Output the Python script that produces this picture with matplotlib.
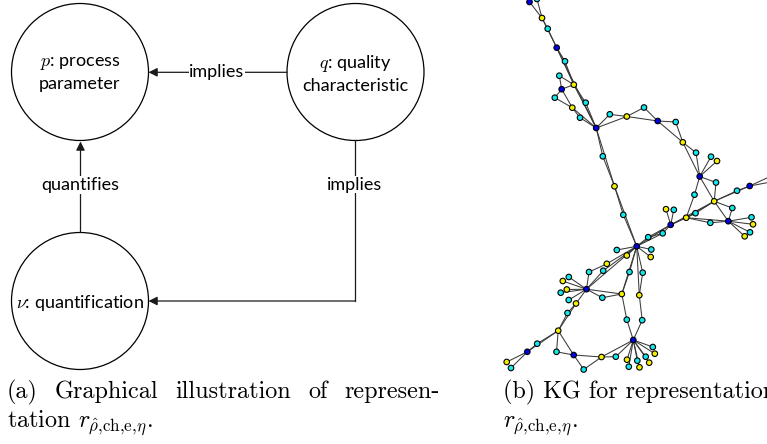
import matplotlib
matplotlib.use('Agg')
import matplotlib.pyplot as plt
from matplotlib.patches import Circle
from matplotlib.collections import LineCollection

plt.rcParams['mathtext.fontset'] = 'cm'

# ---- diagram (a) ----
node_names = ['p', 'q', 'nu']
node_labels = ['$p$: process\nparameter', '$q$: quality\ncharacteristic', r'$\nu$: quantification']
node_cx = [80, 355.5, 80]
node_cy = [72, 72, 301]
node_r = 68.5

# ---- knowledge graph (b): node positions (pixels) and kinds ----
kg_x = [529.5, 537, 542, 547.7, 556.7, 565, 559.3, 573.8, 561.7, 554.8,
        585.7, 572.3, 580, 596.2, 609.8, 626.8, 644, 657.7, 675.7, 682.8,
        696, 711, 717, 699.7, 716, 694.5, 714.2, 737, 749.7, 785,
        785, 732.3, 666, 673.8, 695.5, 686.2, 710.3, 728.3, 751.5, 753,
        750, 744.7, 670.7, 662.7, 648.2, 636.7, 623.3, 614.5, 602.8, 616.8,
        626.8, 651.3, 650.7, 606.8, 603.2, 589, 629.5, 642.7, 568.8, 562.8,
        586.5, 566.8, 560.7, 602.3, 621.8, 639.3, 568.7, 576, 567.5, 626.8,
        642.2, 558.2, 633.3, 537.2, 652.8, 654.8, 527.3, 556.5, 573.7, 601.5,
        615.8, 645.7, 627, 637.3, 649.2, 628.8, 639.5, 506.7, 511, 583.7]
kg_y = [2, -1, 18, 28.7, 47.7, 61.3, 75.7, 84.7, 89.2, 97.7,
        102.7, 107.7, 117.7, 128, 114.3, 116.5, 107.5, 121, 122, 142.3,
        152.7, 156.7, 161, 176.5, 182.5, 194.7, 201.3, 190.7, 186, 169.6,
        179.3, 208, 209.2, 209.8, 213.2, 217.7, 222.8, 221.2, 217.3, 224.3,
        232.3, 236.3, 224.8, 233.3, 237.2, 246.3, 214.8, 186.3, 156.3, 250,
        255.5, 249.5, 257, 263.8, 270.7, 272, 272, 272.7, 277, 281,
        289.2, 289.5, 292.7, 297.7, 294, 295.2, 300, 303.5, 313, 319.7,
        320.2, 330.7, 340, 343.7, 347, 353.7, 351.8, 351.8, 355, 357,
        356.7, 356.7, 359.7, 360.7, 362.7, 366.7, 367.3, 362, 368, 369.5]
kg_kind = list('BCYCBCCYBC'
               'CYCBCYCBCY'
               'CCYBCCYCBB'
               'BCYCCYCBCY'
               'CYBCCBCYCC'
               'YCYYCCCCCY'
               'BYCCYYCYCC'
               'CYBCCYBCBY'
               'CCYCYCYYCC')
kg_edges = [(0, 2), (1, 2), (2, 3), (3, 4), (2, 4), (4, 5), (5, 7), (4, 7), (7, 10),
            (10, 13), (7, 13), (4, 13), (6, 7), (6, 8), (8, 7), (8, 9), (8, 11),
            (9, 11), (11, 12), (12, 13), (11, 13), (13, 14), (14, 15), (13, 15),
            (15, 16), (16, 17), (15, 17), (17, 18), (18, 19), (17, 19), (19, 20),
            (20, 23), (19, 23), (21, 23), (22, 23), (24, 23), (23, 26), (24, 26),
            (25, 23), (25, 35), (26, 27), (27, 28), (26, 28), (28, 29), (28, 30),
            (26, 31), (31, 37), (26, 37), (26, 34), (34, 35), (26, 35), (35, 42),
            (26, 42), (34, 42), (35, 36), (36, 37), (35, 37), (37, 38), (37, 39),
            (37, 40), (37, 41), (42, 32), (42, 33), (42, 43), (43, 44), (44, 45),
            (42, 45), (43, 45), (42, 44), (13, 48), (48, 47), (13, 47), (47, 46),
            (46, 45), (47, 45), (45, 49), (45, 50), (45, 51), (45, 52), (45, 53),
            (53, 55), (55, 60), (45, 54), (54, 60), (45, 60), (60, 58), (60, 59),
            (60, 61), (60, 62), (60, 66), (60, 63), (63, 64), (60, 64), (64, 56),
            (56, 45), (45, 64), (64, 69), (69, 72), (65, 57), (57, 45), (45, 65),
            (65, 70), (70, 72), (60, 67), (67, 68), (68, 71), (67, 71), (71, 73),
            (73, 76), (71, 76), (76, 87), (76, 88), (71, 77), (71, 78), (77, 78),
            (78, 79), (78, 89), (89, 79), (79, 80), (80, 72), (79, 72), (72, 74),
            (72, 75), (72, 81), (72, 82), (72, 83), (72, 84), (72, 85), (72, 86)]
kind_colors = {'B': '#0000e6', 'C': '#12e8ec', 'Y': '#f4f000'}

sub = r'$r_{\hat{\rho}{,}\mathrm{ch}{,}\mathrm{e}{,}\eta}$.'
caption_a = ['(a) Graphical illustration of represen-', 'tation ' + sub]
caption_b = ['(b) KG for representation', sub]

fig = plt.figure(figsize=(7.67, 4.44), dpi=100)
ax = fig.add_axes([0, 0, 1, 1])
ax.set_xlim(0, 767)
ax.set_ylim(444, 0)
ax.axis('off')

# circles with their texts
for cx, cy, lab in zip(node_cx, node_cy, node_labels):
    ax.add_patch(Circle((cx, cy), node_r, fill=False, ec='black', lw=0.9))
    ax.text(cx, cy + 1.5, lab, ha='center', va='center', fontsize=13,
            family='Lato', linespacing=1.28)

arrow = dict(arrowstyle='-|>', mutation_scale=13, lw=0.9, color='#1a1a1a',
             shrinkA=0, shrinkB=0)
lbl = dict(ha='center', va='center', fontsize=13, family='Lato',
           bbox=dict(fc='white', ec='none', pad=0.5))

# q -> p
ax.annotate('', xy=(node_cx[0] + node_r, 72.3), xytext=(node_cx[1] - node_r, 72.3),
            arrowprops=arrow)
ax.text(217, 71.5, 'implies', **lbl)
# nu -> p
ax.annotate('', xy=(80.5, node_cy[0] + node_r + 1), xytext=(80.5, node_cy[2] - node_r),
            arrowprops=arrow)
ax.text(80.5, 185, 'quantifies', **lbl)
# q -> nu (elbow)
ax.plot([355, 355], [node_cy[1] + node_r, 301], color='#1a1a1a', lw=0.9)
ax.annotate('', xy=(node_cx[2] + node_r, 301), xytext=(355.45, 301),
            arrowprops=arrow)
ax.text(355, 184.5, 'implies', **lbl)

# knowledge graph
segs = [[(kg_x[a], kg_y[a]), (kg_x[b], kg_y[b])] for a, b in kg_edges]
ax.add_collection(LineCollection(segs, colors='#3a3a3a', linewidths=0.75, zorder=2))
ax.scatter(kg_x, kg_y, s=16, c=[kind_colors[k] for k in kg_kind],
           edgecolors='black', linewidths=0.8, zorder=3)

# captions (first line of (a) justified like LaTeX)
cap_fs = 17.4
renderer = fig.canvas.get_renderer()


def justified(x0, x1, y, line):
    words = line.split(' ')
    arts = [ax.text(0, y, w, ha='left', va='baseline', fontsize=cap_fs,
                    family='cmr10') for w in words]
    widths = [a.get_window_extent(renderer).width for a in arts]
    gap = (x1 - x0 - sum(widths)) / (len(words) - 1)
    x = x0
    for a, w in zip(arts, widths):
        a.set_x(x)
        x += w + gap


justified(7, 440, 398, caption_a[0])
ax.text(7, 428, caption_a[1], ha='left', va='baseline', fontsize=cap_fs, family='cmr10')
for i, line in enumerate(caption_b):
    ax.text(503, 398 + 30 * i, line, ha='left', va='baseline', fontsize=cap_fs,
            family='cmr10')

fig.savefig('out.png', dpi=100)
